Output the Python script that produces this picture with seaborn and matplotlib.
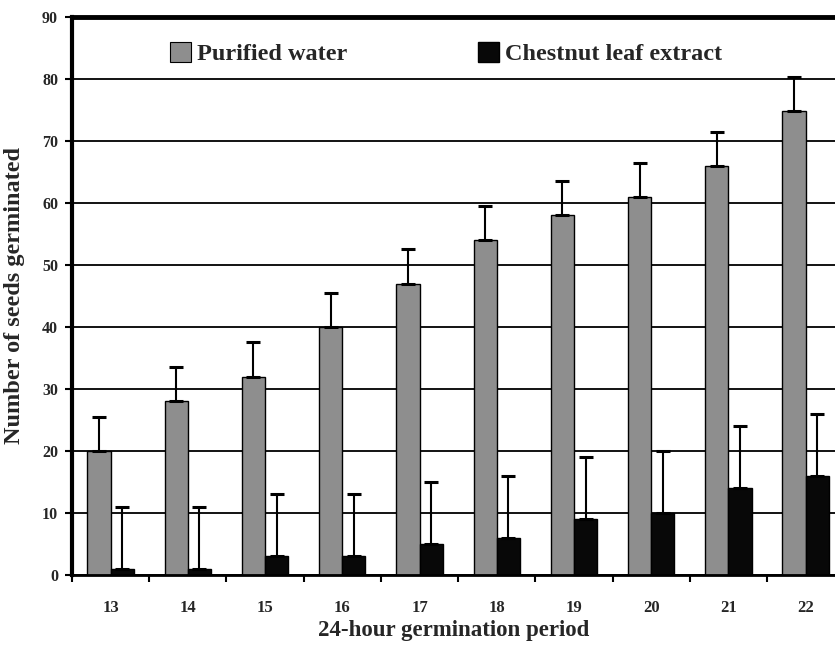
"""
Seed germination: purified water vs chestnut leaf extract
"""
import numpy as np
import pandas as pd
import matplotlib.pyplot as plt
from matplotlib.patches import Patch
import seaborn as sns

days          = ["13", "14", "15", "16", "17", "18", "19", "20", "21", "22"]
water_mean    = [20, 28, 32, 40, 47, 54, 58, 61, 66, 74.8]
water_err     = [5.5, 5.5, 5.5, 5.5, 5.5, 5.5, 5.5, 5.5, 5.5, 5.5]
extract_mean  = [1, 1, 3, 3, 5, 6, 9, 10, 14, 16]
extract_err   = [10, 10, 10, 10, 10, 10, 10, 10, 10, 10]
series        = ["Purified water", "Chestnut leaf extract"]

GREY  = "#8e8e8e"
BLACK = "#080808"
SERIF = ["Liberation Serif", "DejaVu Serif"]

df = pd.DataFrame({
    "day":   days * 2,
    "group": [series[0]] * len(days) + [series[1]] * len(days),
    "count": water_mean + extract_mean,
})

sns.set_style("white")
plt.rcParams["font.family"] = SERIF
plt.rcParams["font.weight"] = "bold"

fig = plt.figure(figsize=(8.35, 6.59), dpi=100)
ax = fig.add_axes([0.0862, 0.1275, 0.9138, 0.8467])

sns.barplot(data=df, x="day", y="count", hue="group", order=days,
            hue_order=series, palette={series[0]: GREY, series[1]: BLACK},
            width=0.6, errorbar=None, edgecolor="black", linewidth=1,
            legend=False, ax=ax)

# upward-only error bars
for cont, errs in zip(ax.containers, [water_err, extract_err]):
    xs = [b.get_x() + b.get_width() / 2 for b in cont]
    hs = [b.get_height() for b in cont]
    ax.errorbar(xs, hs, yerr=[np.zeros(len(errs)), errs], fmt="none",
                ecolor="black", elinewidth=1.5, capsize=5, capthick=2.2, zorder=3)

ax.set_ylim(0, 90)
ax.set_xlim(-0.5, 9.38)
ax.set_yticks(range(0, 91, 10))
ax.yaxis.grid(True, color="black", linewidth=1.3)
ax.set_axisbelow(True)

ax.set_xticks(range(len(days)))
ax.set_xticklabels(days)
ax.set_xticks(np.arange(-0.5, 9.5, 1), minor=True)
ax.tick_params(axis="x", which="major", length=0, pad=18, labelsize=12)
ax.tick_params(axis="x", which="minor", length=5, width=1.5, direction="out",
               color="black", bottom=True)
ax.tick_params(axis="y", length=5, width=1.5, direction="out", color="black",
               left=True, labelsize=11.5, pad=5)
for lab in ax.get_xticklabels() + ax.get_yticklabels():
    lab.set_fontweight("bold")

for name, sp in ax.spines.items():
    sp.set_color("black")
    sp.set_visible(True)
ax.spines["left"].set_linewidth(3)
ax.spines["bottom"].set_linewidth(2)
ax.spines["top"].set_linewidth(3.5)
ax.spines["right"].set_visible(False)

ax.set_xlabel("24-hour germination period", fontsize=16.5, fontweight="bold",
              labelpad=3)
ax.set_ylabel("Number of seeds germinated", fontsize=17.5, fontweight="bold",
              labelpad=12)

handles = [Patch(facecolor=GREY, edgecolor="black", linewidth=0.8),
           Patch(facecolor=BLACK, edgecolor="black")]
ax.legend(handles, series, ncol=2, frameon=False, loc="upper left",
          bbox_to_anchor=(0.10, 0.994), columnspacing=5.4, handlelength=0.85,
          handleheight=0.85, handletextpad=0.25,
          prop={"family": SERIF, "weight": "bold", "size": 17.5})

fig.savefig("out.png", dpi=100, facecolor="white")
plt.close(fig)
